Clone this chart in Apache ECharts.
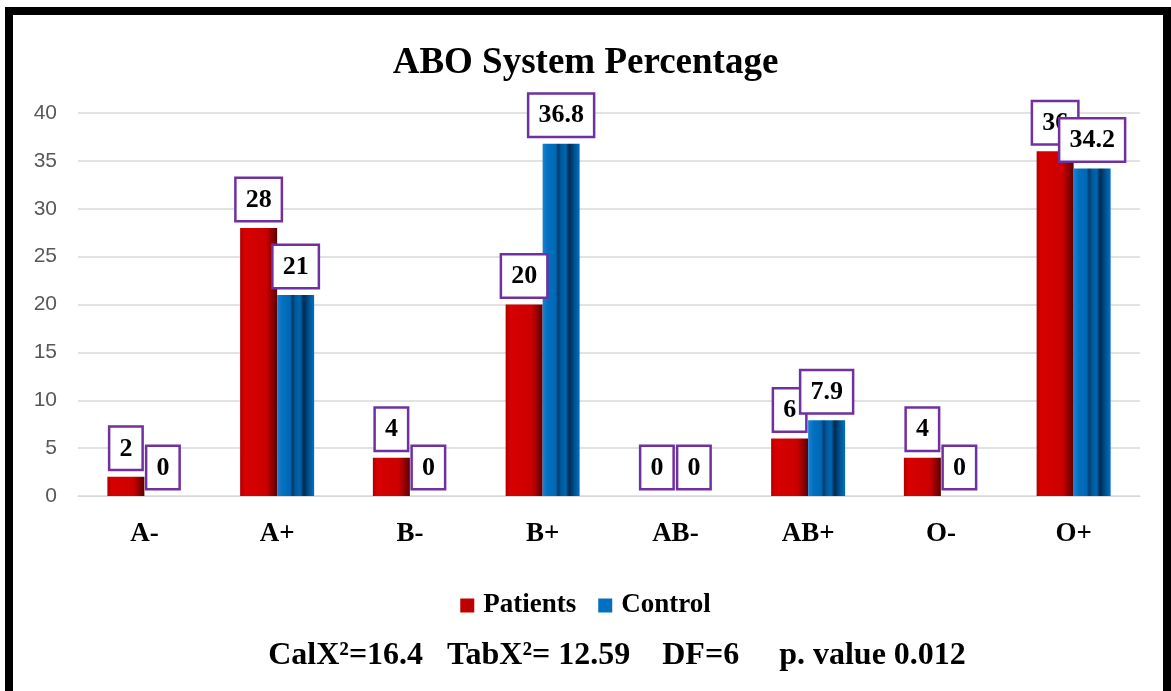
<!DOCTYPE html>
<html><head><meta charset="utf-8">
<script src="https://cdn.jsdelivr.net/npm/echarts@6/dist/echarts.min.js"></script>
<style>
html,body{margin:0;padding:0;background:#fff;}
#c{position:absolute;left:0;top:0;width:1171px;height:691px;}
#frame{position:absolute;left:5px;top:7px;width:1150px;height:676px;border:8px solid #000;border-bottom:3px solid #222;pointer-events:none;}
</style></head>
<body>
<div id="c"></div>
<div id="frame"></div>
<script>
const categories = ['A-','A+','B-','B+','AB-','AB+','O-','O+'];
const patients = [2, 28, 4, 20, 0, 6, 4, 36];
const control = [0, 21, 0, 36.8, 0, 7.9, 0, 34.2];
const yTicks = {min: 0, max: 40, interval: 5};
const footer = 'CalX\u00B2=16.4   TabX\u00B2= 12.59    DF=6     p. value 0.012';

const serif = '"Liberation Serif","DejaVu Serif",serif';
const chart = echarts.init(document.getElementById('c'));
const redGrad = new echarts.graphic.LinearGradient(0,0,1,0,[
  {offset:0,color:'#b00000'},{offset:0.12,color:'#d80000'},{offset:0.7,color:'#cc0000'},
  {offset:0.88,color:'#8a0000'},{offset:1,color:'#5a0000'}]);
const blueGrad = new echarts.graphic.LinearGradient(0,0,1,0,[
  {offset:0,color:'#1c80d0'},{offset:0.15,color:'#0070c0'},{offset:0.35,color:'#0068b4'},
  {offset:0.42,color:'#003c6e'},{offset:0.5,color:'#005a9c'},{offset:0.62,color:'#0066b0'},
  {offset:0.72,color:'#002a50'},{offset:0.85,color:'#00508f'},{offset:1,color:'#0070c0'}]);
const lbl = {
  show:true, position:'top', distance:8,
  backgroundColor:'#fff', borderColor:'#7030A0', borderWidth:2.5,
  padding:[6,9,5,9], lineHeight:30, color:'#000', fontFamily:serif, fontWeight:'bold', fontSize:26
};
chart.setOption({
  animation:false,
  title:{text:'ABO System Percentage', left:'center', top:40,
    textStyle:{fontFamily:serif, fontWeight:'bold', fontSize:37, color:'#000'}},
  legend:{data:[{name:'Patients',itemStyle:{color:'#c00000'}},{name:'Control',itemStyle:{color:'#0070c0'}}],
    left:'center', top:587, icon:'rect', itemWidth:14, itemHeight:14, itemGap:22,
    textStyle:{fontFamily:serif, fontWeight:'bold', fontSize:27, color:'#000', padding:[0,0,0,4]}},
  graphic:[{type:'text', x:617, y:656, style:{text:footer, textAlign:'center', textVerticalAlign:'middle', fontFamily:serif, fontWeight:'bold', fontSize:32, fill:'#000'}}],
  grid:{left:78, right:31, top:113, bottom:195},
  xAxis:{type:'category', data:categories, axisTick:{show:false},
    axisLine:{lineStyle:{color:'#d9d9d9'}},
    axisLabel:{margin:25, fontFamily:serif, fontWeight:'bold', fontSize:27, color:'#000'}},
  yAxis:{type:'value', min:yTicks.min, max:yTicks.max, interval:yTicks.interval,
    axisLine:{show:false}, axisTick:{show:false},
    splitLine:{lineStyle:{color:'#d9d9d9', width:1.5}},
    axisLabel:{margin:21, fontFamily:'"Liberation Sans","Noto Sans",sans-serif', fontSize:21, color:'#595959'}},
  series:[
    {name:'Patients', type:'bar', data:patients, barWidth:37, barGap:'0%',
      itemStyle:{color:redGrad}, label:lbl},
    {name:'Control', type:'bar', data:control, barWidth:37, barGap:'0%',
      itemStyle:{color:blueGrad}, label:lbl}
  ]
});
</script>
</body></html>
